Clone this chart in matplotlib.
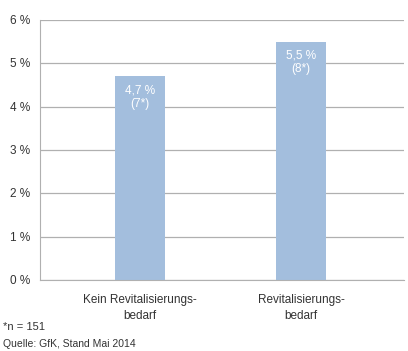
import matplotlib
matplotlib.use("Agg")
import matplotlib.pyplot as plt
from matplotlib.transforms import offset_copy

categories = ["Kein Revitalisierungs-\nbedarf", "Revitalisierungs-\nbedarf"]
values = [4.7, 5.5]
bar_labels = ["4,7 %\n(7*)", "5,5 %\n(8*)"]
yticks = [0, 1, 2, 3, 4, 5, 6]
ytick_labels = ["0 %", "1 %", "2 %", "3 %", "4 %", "5 %", "6 %"]

plt.rcParams["font.family"] = ["Liberation Sans", "DejaVu Sans"]
BAR = "#a3bedd"
GRID = "#b0b0b0"
TXT = "#333333"
FS = 8.5

fig = plt.figure(figsize=(4.08, 3.51), dpi=100)
ax = fig.add_axes([40 / 408, 71 / 351, 364 / 408, 260 / 351])
x = list(range(len(values)))
ax.bar(x, values, width=0.31, color=BAR, zorder=2)
ax.set_xlim(-0.621, 1.64)
ax.set_ylim(0, 6)
ax.set_yticks(yticks)
ax.set_yticklabels(ytick_labels)
ax.yaxis.grid(True, color=GRID, lw=0.9, zorder=1)
ax.set_axisbelow(True)
ax.tick_params(axis="y", length=0, pad=7, labelsize=FS, labelcolor=TXT)
for t in ax.get_yticklabels():
    t.set_verticalalignment("bottom")
    t.set_transform(offset_copy(t.get_transform(), fig=fig, y=-7, units="dots"))
ax.set_xticks(x)
ax.set_xticklabels(categories, linespacing=1.45)
ax.tick_params(axis="x", length=0, pad=10, labelsize=FS, labelcolor=TXT)
for s in ["top", "right"]:
    ax.spines[s].set_visible(False)
ax.spines["left"].set_color(GRID)
ax.spines["bottom"].set_color(GRID)

for xi, v, lab in zip(x, values, bar_labels):
    ax.annotate(lab, (xi, v), xytext=(0, -6), textcoords="offset points",
                ha="center", va="top", color="white", fontsize=FS, linespacing=1.1)

fig.text(3 / 408, 1 - 327 / 351, "*n = 151", fontsize=8, color=TXT, va="center")
fig.text(3 / 408, 1 - 344 / 351, "Quelle: GfK, Stand Mai 2014", fontsize=7.5, color=TXT, va="center")

fig.savefig("out.png", dpi=100)
